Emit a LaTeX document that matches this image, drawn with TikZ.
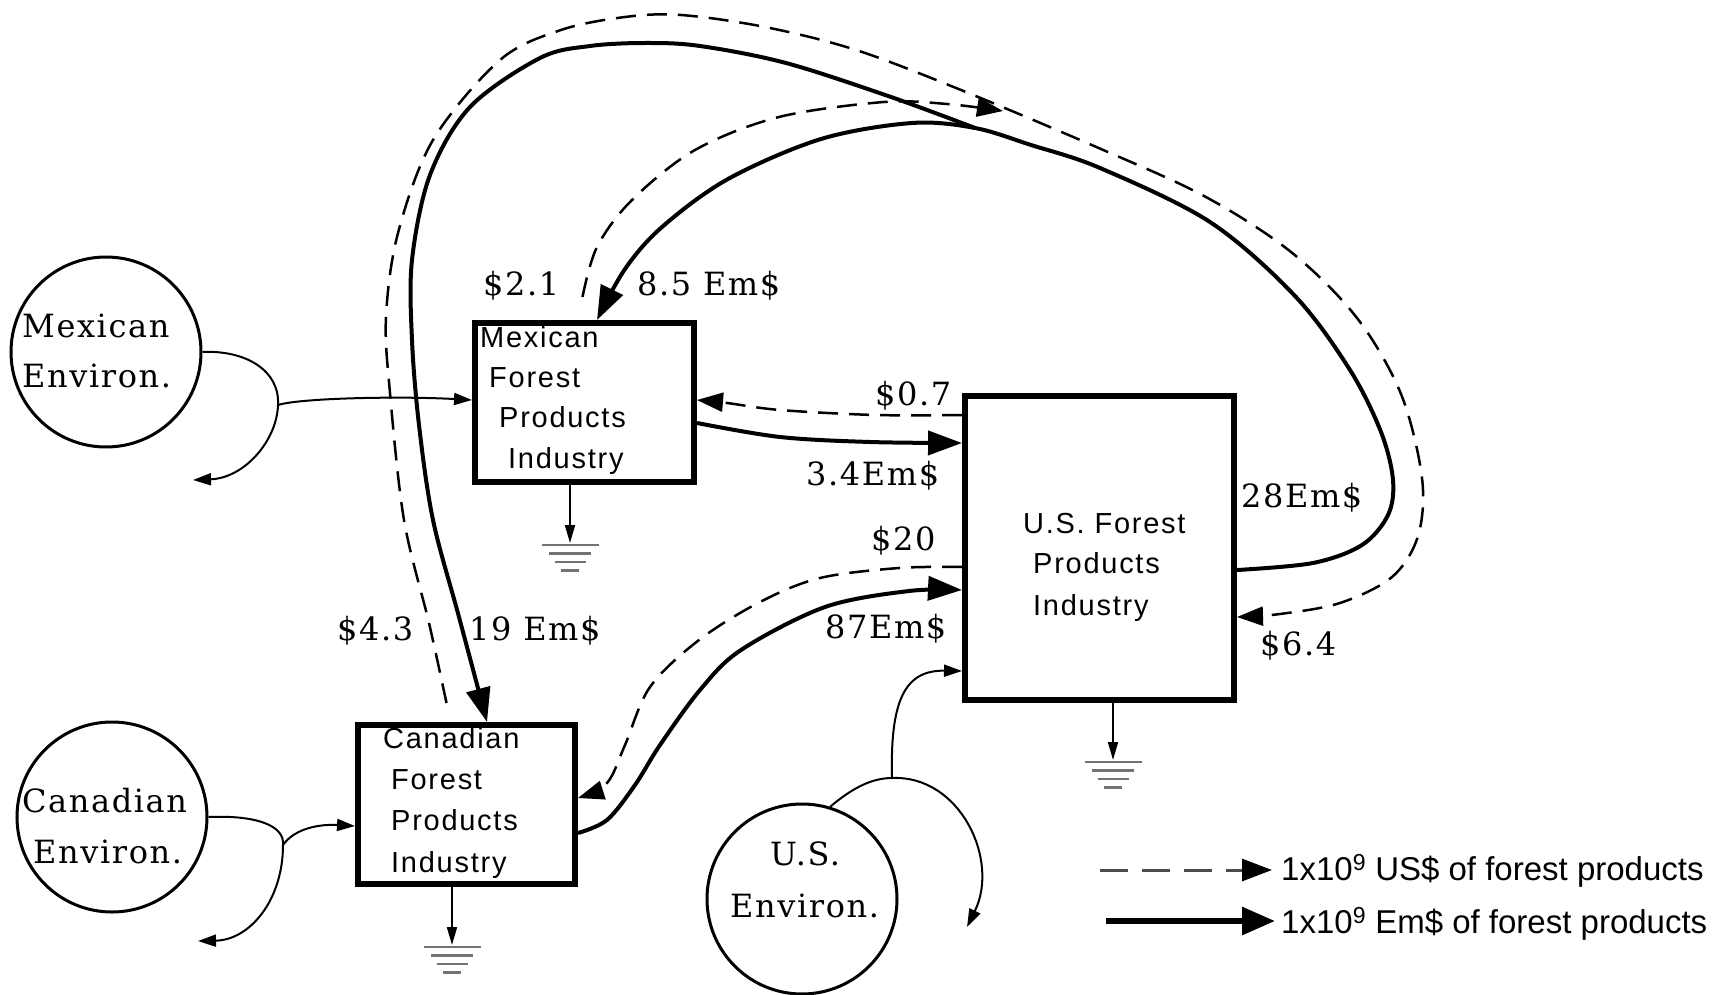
\documentclass[tikz,border=0pt]{standalone}
\usepackage{fontspec}
\usetikzlibrary{arrows.meta,calc}
\newfontfamily\serf{DejaVu Serif}[LetterSpace=5.0]
\newfontfamily\sanf{Liberation Sans}[LetterSpace=6.0]
\newfontfamily\legf{Liberation Sans}
\newcommand\gndsym[1]{%
  \draw[gndbar] ($(#1)+(-28.5,2)$) -- ($(#1)+(28.5,2)$);
  \draw[gndbar] ($(#1)+(-21,10.5)$) -- ($(#1)+(21,10.5)$);
  \draw[gndbar] ($(#1)+(-15.5,19)$) -- ($(#1)+(15.5,19)$);
  \draw[gndbar] ($(#1)+(-9,27.5)$) -- ($(#1)+(9,27.5)$);}
\begin{document}
\begin{tikzpicture}[x=1pt,y=-1pt,
  env/.style={circle,draw,line width=3pt,minimum size=190pt,inner sep=0pt,fill=white},
  ind/.style={rectangle,draw,line width=6pt,inner sep=0pt,fill=white},
  stxt/.style={anchor=base west,inner sep=0pt,font=\serf\fontsize{32}{38}\selectfont},
  btxt/.style={anchor=base west,inner sep=0pt,font=\sanf\fontsize{29}{35}\selectfont},
  ltxt/.style={anchor=base west,inner sep=0pt,font=\legf\fontsize{33}{40}\selectfont},
  emflow/.style={line width=4pt,-{Triangle[length=34pt,width=24pt]}},
  usflow/.style={line width=2.5pt,dash pattern=on 20pt off 11pt,-{Triangle[length=26pt,width=19pt]}},
  envflow/.style={line width=2pt,-{Triangle[length=18pt,width=12pt]}},
  gnd/.style={line width=2pt,-{Triangle[length=18pt,width=10pt]}},
  gndbar/.style={line width=2.5pt,draw=black!55},
]
\useasboundingbox[fill=white] (0,0) rectangle (1716,995);

% nodes
\node[env] (mexenv) at (106,352) {};
\node[env] (canenv) at (112,817) {};
\node[env] (usenv) at (802,899) {};
\node[ind,minimum width=219pt,minimum height=159pt] (mexbox) at (584.5,402.5) {};
\node[ind,minimum width=269pt,minimum height=304pt] (usbox) at (1099.5,548) {};
\node[ind,minimum width=217pt,minimum height=159pt] (canbox) at (466.5,804.5) {};

% texts in circles
\node[stxt] (t-me1) at (22,337) {Mexican};
\node[stxt] (t-me2) at (22,387) {Environ.};
\node[stxt] (t-ce1) at (22,812) {Canadian};
\node[stxt] (t-ce2) at (33,863) {Environ.};
\node[stxt] (t-ue1) at (770,865) {U.S.};
\node[stxt] (t-ue2) at (730,917) {Environ.};

% texts in boxes
\node[btxt] (t-mb1) at (480,347) {Mexican};
\node[btxt] (t-mb2) at (489,387) {Forest};
\node[btxt] (t-mb3) at (499,427) {Products};
\node[btxt] (t-mb4) at (508,468) {Industry};
\node[btxt] (t-cb1) at (383,748) {Canadian};
\node[btxt] (t-cb2) at (391,789) {Forest};
\node[btxt] (t-cb3) at (391,830) {Products};
\node[btxt] (t-cb4) at (391,872) {Industry};
\node[btxt] (t-ub1) at (1023,533) {U.S. Forest};
\node[btxt] (t-ub2) at (1033,573) {Products};
\node[btxt] (t-ub3) at (1033,615) {Industry};

% named end coordinates
\coordinate (sA0) at ($(usbox.east)+(0,22)$);
\coordinate (brpt) at (975,128);
\coordinate (mA1) at ($(mexbox.north)+(12.5,0)$);
\coordinate (cA1) at ($(canbox.north)+(20.5,0)$);
\coordinate (cD0) at ($(canbox.north)+(-20,-19)$);
\coordinate (uD1) at ($(usbox.east)+(0,69)$);
\coordinate (mD0) at ($(mexbox.north)+(-2,-23)$);
\coordinate (merge) at (1003,111);
\coordinate (mU0) at ($(mexbox.east)+(0,20.5)$);
\coordinate (mU1) at ($(usbox.west)+(0,-105)$);
\coordinate (uM0) at ($(usbox.west)+(0,-133)$);
\coordinate (uM1) at ($(mexbox.east)+(0,-2.5)$);
\coordinate (cU0) at ($(canbox.east)+(0,28.5)$);
\coordinate (cU1) at ($(usbox.west)+(0,42)$);
\coordinate (uC0) at ($(usbox.west)+(0,19)$);
\coordinate (uC1) at ($(canbox.east)+(0,-6.5)$);

% big solid loop: US -> Mexico
\draw[emflow] plot[smooth,tension=0.55] coordinates {(sA0) (1313,563) (1362,545) (1388,515) (1393,480) (1381,432) (1350,370) (1295,296) (1210,222) (1100,168) (1031,145) (brpt) (912,123) (821,139) (728,179) (662,227) (625,269) (mA1)};
% branch to Canada
\draw[emflow] plot[smooth,tension=0.55] coordinates {(brpt) (891,97) (786,63) (700,46) (646,43) (590,46) (540,58) (470,107) (430,175) (412,260) (412,340) (419,425) (433,520) (459,617) (cA1)};
% outer dashed: Canada -> US
\draw[usflow] plot[smooth,tension=0.55] coordinates {(cD0) (429,623) (404,520) (390,393) (386,317) (398,233) (433,140) (500,60) (561,30) (625,17) (681,15) (765,27) (856,50) (961,90) (1094,146) (1204,196) (1291,252) (1357,318) (1401,394) (1422,478) (1418,536) (1392,577) (1340,603) (1280,614) (uD1)};
% inner dashed: Mexico -> merge
\draw[usflow] plot[smooth,tension=0.55] coordinates {(mD0) (597,247) (632,200) (695,150) (779,117) (884,102) (947,104) (merge)};

% Mexico <-> US
\draw[emflow] plot[smooth,tension=0.55] coordinates {(mU0) (780,437) (870,442) (mU1)};
\draw[usflow] plot[smooth,tension=0.55] coordinates {(uM0) (875,415) (780,410) (727,403) (uM1)};
% Canada <-> US
\draw[emflow] plot[smooth,tension=0.55] coordinates {(cU0) (607,820) (635,785) (660,745) (700,690) (741,650) (825,607) (909,591) (cU1)};
\draw[usflow] plot[smooth,tension=0.55] coordinates {(uC0) (899,568) (820,578) (760,602) (699,640) (650,687) (625,745) (607,783) (uC1)};

% environment flows
\coordinate (mexspl) at (278,405);
\draw[envflow] (mexenv.east) .. controls (245,350) and (280,370) .. (mexspl) .. controls (277,440) and (245,478) .. (193,480);
\draw[envflow] (mexspl) .. controls (300,398) and (400,396) .. ($(mexbox.west)+(0,-2.5)$);
\coordinate (canspl) at (283,845);
\draw[envflow] (canenv.east) .. controls (255,815) and (285,825) .. (canspl) .. controls (283,900) and (250,940) .. (198,941);
\draw[envflow] (canspl) .. controls (295,828) and (320,824) .. ($(canbox.west)+(0,21.5)$);
\coordinate (usspl) at (892,778);
\draw[envflow] (usenv.73) .. controls (850,790) and (870,778) .. (usspl) .. controls (960,775) and (1000,860) .. (967,927);
\draw[envflow] (usspl) .. controls (890,700) and (905,670) .. ($(usbox.west)+(0,123)$);

% grounds
\coordinate (mg) at (570,543);
\draw[gnd] ($(mexbox.south)+(-14.5,0)$) -- (mg);
\gndsym{mg}
\coordinate (cg) at (452,945);
\draw[gnd] ($(canbox.south)+(-14.5,0)$) -- (cg);
\gndsym{cg}
\coordinate (ug) at (1113,760);
\draw[gnd] ($(usbox.south)+(13.5,0)$) -- (ug);
\gndsym{ug}

% flow labels
\node[stxt] (l21) at (483,295) {\$2.1};
\node[stxt] (l85) at (637,295) {8.5 Em\$};
\node[stxt] (l07) at (875,405) {\$0.7};
\node[stxt] (l34) at (806,485) {3.4Em\$};
\node[stxt] (l20) at (871,550) {\$20};
\node[stxt] (l87) at (825,638) {87Em\$};
\node[stxt] (l28) at (1241,507) {28Em\$};
\node[stxt] (l64) at (1260,655) {\$6.4};
\node[stxt] (l43) at (337,640) {\$4.3};
\node[stxt] (l19) at (469,640) {19 Em\$};

% legend
\coordinate (lg1a) at (1100,870);
\coordinate (lg1b) at (1272,870);
\draw[line width=3pt,draw=black!70,dash pattern=on 28pt off 14pt,-{Triangle[length=30pt,width=22pt,color=black]}] (lg1a) -- (lg1b);
\node[ltxt] (leg1) at (1281,880) {1x10\textsuperscript{9} US\$ of forest products};
\coordinate (lg2a) at (1106,921);
\coordinate (lg2b) at (1275,921);
\draw[line width=6pt,-{Triangle[length=33pt,width=27pt]}] (lg2a) -- (lg2b);
\node[ltxt] (leg2) at (1281,933) {1x10\textsuperscript{9} Em\$ of forest products};
\end{tikzpicture}
\end{document}
